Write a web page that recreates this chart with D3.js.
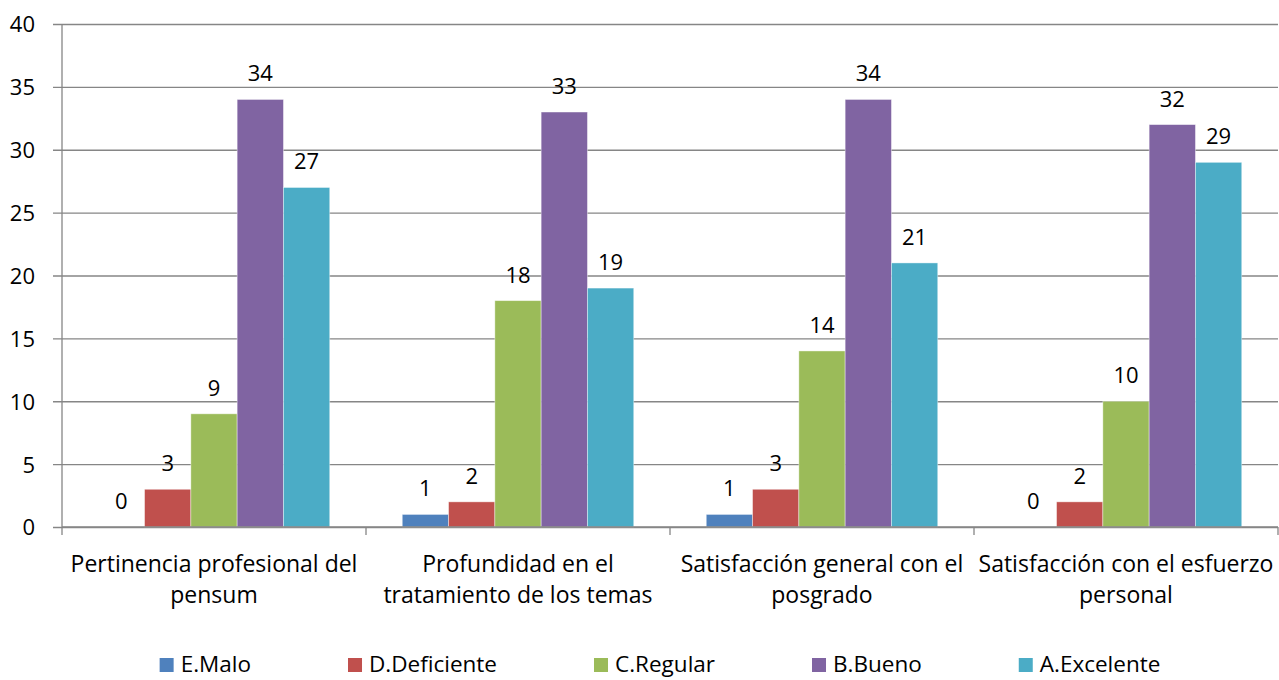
<!DOCTYPE html>
<html>
<head>
<meta charset="utf-8">
<script src="https://cdn.jsdelivr.net/npm/d3@7"></script>
<style>
  html, body { margin: 0; padding: 0; background: #fff; }
  svg { display: block; font-family: "Open Sans", "Noto Sans", sans-serif; }
</style>
</head>
<body>
<svg id="chart" width="1279" height="680"></svg>
<script>
// ---- data ----
const categories = [
  "Pertinencia profesional del pensum",
  "Profundidad en el tratamiento de los temas",
  "Satisfacción general con el posgrado",
  "Satisfacción con el esfuerzo personal"
];
const categoryLines = [
  ["Pertinencia profesional del", "pensum"],
  ["Profundidad en el", "tratamiento de los temas"],
  ["Satisfacción general con el", "posgrado"],
  ["Satisfacción con el esfuerzo", "personal"]
];
const seriesNames = ["E.Malo", "D.Deficiente", "C.Regular", "B.Bueno", "A.Excelente"];
const seriesColors = ["#4F81BD", "#C0504D", "#9BBB59", "#8064A2", "#4BACC6"];
const eMalo      = [0, 1, 1, 0];
const dDeficiente = [3, 2, 3, 2];
const cRegular   = [9, 18, 14, 10];
const bBueno     = [34, 33, 34, 32];
const aExcelente = [27, 19, 21, 29];
const seriesValues = [eMalo, dDeficiente, cRegular, bBueno, aExcelente];
const yTicks = [0, 5, 10, 15, 20, 25, 30, 35, 40];

// ---- layout ----
const svg = d3.select("#chart");
const plotLeft = 62, plotRight = 1278, plotTop = 24, plotBottom = 527;
const gridColor = "#868686";

const y = d3.scaleLinear().domain([0, 40]).range([plotBottom, plotTop]);
const x0 = d3.scaleBand().domain(categories).range([plotLeft, plotRight]).paddingInner(0).paddingOuter(0);
const x1 = d3.scaleBand().domain(seriesNames).range([0, x0.bandwidth()]).paddingInner(0).paddingOuter(0.783);

// gridlines + y axis labels
const yAxis = d3.axisLeft(y).tickValues(yTicks).tickSize(-(plotRight - plotLeft)).tickSizeOuter(0).tickPadding(27);
const gy = svg.append("g").attr("transform", `translate(${plotLeft},0)`).call(yAxis);
gy.select(".domain").remove();
gy.selectAll(".tick line").attr("stroke", gridColor).attr("stroke-width", 1.3).attr("x1", -9);
gy.selectAll(".tick text").attr("font-size", 22).attr("fill", "#000")
  .attr("font-family", "'Open Sans', sans-serif").attr("dy", "0.36em");

// vertical axis line
svg.append("line").attr("x1", plotLeft).attr("x2", plotLeft).attr("y1", plotTop).attr("y2", plotBottom)
  .attr("stroke", gridColor).attr("stroke-width", 1.3);

// bars
const groups = svg.append("g").selectAll("g").data(categories).join("g")
  .attr("transform", d => `translate(${x0(d)},0)`);

groups.each(function(cat, ci) {
  const g = d3.select(this);
  seriesNames.forEach((s, si) => {
    const v = seriesValues[si][ci];
    if (v > 0) {
      g.append("rect")
        .attr("x", x1(s))
        .attr("y", y(v))
        .attr("width", x1.bandwidth())
        .attr("height", y(0) - y(v))
        .attr("fill", seriesColors[si])
        .attr("stroke", "#ffffff").attr("stroke-opacity", 0.5).attr("stroke-width", 0.8);
    }
    g.append("text")
      .attr("x", x1(s) + x1.bandwidth() / 2)
      .attr("y", y(v) - 18)
      .attr("text-anchor", "middle")
      .attr("font-size", 22)
      .attr("fill", "#000")
      .text(v);
  });
});

// x axis line + ticks
svg.append("line").attr("x1", plotLeft).attr("x2", plotRight).attr("y1", plotBottom).attr("y2", plotBottom)
  .attr("stroke", gridColor).attr("stroke-width", 1.3);
const boundaries = categories.map(c => x0(c)).concat([plotRight]);
svg.append("g").selectAll("line").data(boundaries).join("line")
  .attr("x1", d => d).attr("x2", d => d).attr("y1", plotBottom).attr("y2", plotBottom + 8)
  .attr("stroke", gridColor).attr("stroke-width", 1.3);

// category labels
svg.append("g").selectAll("text").data(categories).join("text")
  .attr("x", d => x0(d) + x0.bandwidth() / 2)
  .attr("y", 572)
  .attr("text-anchor", "middle")
  .attr("font-size", 23)
  .attr("fill", "#000")
  .each(function(d, i) {
    const t = d3.select(this);
    categoryLines[i].forEach((line, li) => {
      t.append("tspan").attr("x", x0(d) + x0.bandwidth() / 2).attr("dy", li === 0 ? 0 : 31).text(line);
    });
  });

// legend
const legend = svg.append("g");
const items = legend.selectAll("g").data(seriesNames).join("g");
items.append("rect").attr("width", 14).attr("height", 14).attr("y", 658)
  .attr("fill", (d, i) => seriesColors[i]);
items.append("text").attr("x", 21).attr("y", 672).attr("font-size", 22.5).attr("fill", "#000").text(d => d);
const widths = [];
items.each(function() { widths.push(this.querySelector("text").getComputedTextLength() + 21); });
const gap = 97;
const total = d3.sum(widths) + gap * (widths.length - 1);
let cx = 660 - total / 2;
items.each(function(d, i) {
  d3.select(this).attr("transform", `translate(${cx},0)`);
  cx += widths[i] + gap;
});
</script>
</body>
</html>
